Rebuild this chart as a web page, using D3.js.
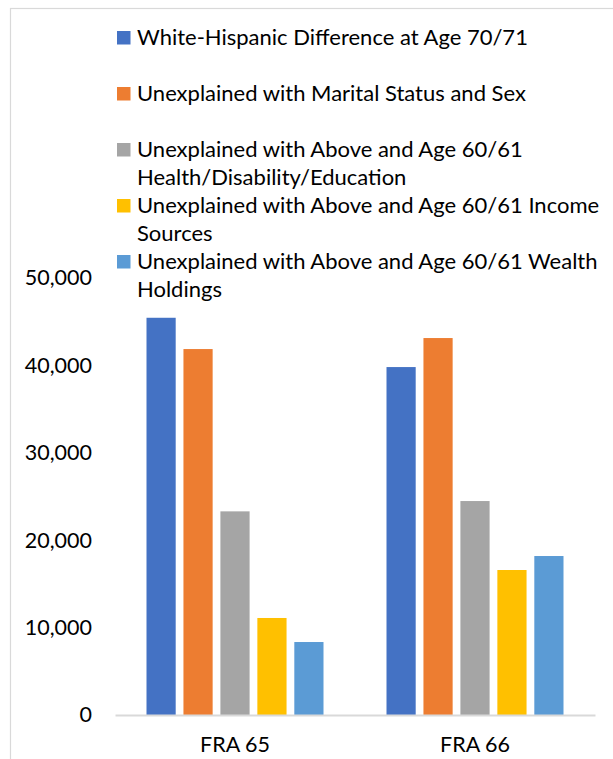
<!DOCTYPE html>
<html>
<head>
<meta charset="utf-8">
<script src="https://cdn.jsdelivr.net/npm/d3@7"></script>
<style>
  body { margin: 0; background: #fff; }
  svg { display: block; font-family: Lato, "Open Sans", sans-serif; font-weight: 400; }
</style>
</head>
<body>
<div id="chart"></div>
<script>
// data
let categories = ["FRA 65", "FRA 66"];
let seriesNames = [
  "White-Hispanic Difference at Age 70/71",
  "Unexplained with Marital Status and Sex",
  "Unexplained with Above and Age 60/61 Health/Disability/Education",
  "Unexplained with Above and Age 60/61 Income Sources",
  "Unexplained with Above and Age 60/61 Wealth Holdings"
];
// legend lines (wrapped like the original)
let legendLines = [
  ["White-Hispanic Difference at Age 70/71"],
  ["Unexplained with Marital Status and Sex"],
  ["Unexplained with Above and Age 60/61", "Health/Disability/Education"],
  ["Unexplained with Above and Age 60/61 Income", "Sources"],
  ["Unexplained with Above and Age 60/61 Wealth", "Holdings"]
];
let fra65 = [45450, 41870, 23300, 11100, 8350];
let fra66 = [39810, 43130, 24480, 16590, 18190];
let yTicks = [0, 10000, 20000, 30000, 40000, 50000];
let colors = ["#4472C4", "#ED7D31", "#A5A5A5", "#FFC000", "#5B9BD5"];

let w = 613, h = 759;
let fontSize = 21.5;
let legendFont = 22;

let svg = d3.select("#chart").append("svg")
  .attr("width", w)
  .attr("height", h);

// chart frame (runs off right and bottom)
svg.append("rect")
  .attr("x", 10.5).attr("y", 8.5)
  .attr("width", w + 20).attr("height", h + 20)
  .attr("fill", "none")
  .attr("stroke", "#d9d9d9")
  .attr("stroke-width", 1.2);

let data = categories.map(function(c, i){
  let vals = i == 0 ? fra65 : fra66;
  return { cat: c, values: vals.map(function(v, j){ return { name: seriesNames[j], value: v, idx: j }; }) };
});

let x0 = d3.scaleBand().domain(categories).range([115, 595]);
let groupPad = 31.5;
let x1 = d3.scaleBand().domain(seriesNames)
  .range([groupPad, x0.bandwidth() - groupPad])
  .paddingInner(0.21);
let y = d3.scaleLinear().domain([0, 50000]).range([715, 278]);

// y axis labels only (no line)
let yAxis = d3.axisLeft(y).tickValues(yTicks).tickSize(0).tickPadding(0)
  .tickFormat(d3.format(","));
let yg = svg.append("g").attr("transform", "translate(92,0)").call(yAxis);
yg.select(".domain").remove();
yg.selectAll("text")
  .attr("font-size", fontSize)
  .attr("font-family", "Lato, sans-serif")
  .attr("fill", "#000");

// bars
let groups = svg.selectAll(".grp").data(data).enter()
  .append("g")
    .attr("class", "grp")
    .attr("transform", function(d){ return "translate(" + x0(d.cat) + ",0)"; });

groups.selectAll("rect").data(function(d){ return d.values; }).enter()
  .append("rect")
    .attr("x", function(d){ return x1(d.name); })
    .attr("y", function(d){ return y(d.value); })
    .attr("width", x1.bandwidth())
    .attr("height", function(d){ return y(0) - y(d.value); })
    .attr("fill", function(d){ return colors[d.idx]; });

// x axis line + labels
let xAxis = d3.axisBottom(x0).tickSize(0).tickPadding(0);
let xg = svg.append("g").attr("transform", "translate(0,715)").call(xAxis);
xg.select(".domain")
  .attr("stroke", "#d9d9d9")
  .attr("stroke-width", 2);
xg.selectAll("text")
  .attr("y", 37)
  .attr("dy", 0)
  .attr("font-size", fontSize)
  .attr("font-family", "Lato, sans-serif")
  .attr("fill", "#000");

// legend
let legend = svg.append("g").attr("class", "legend");
let leg = legend.selectAll(".item").data(legendLines).enter()
  .append("g")
    .attr("class", "item")
    .attr("transform", function(d, i){ return "translate(117," + (44.5 + 56 * i) + ")"; });

leg.append("rect")
  .attr("x", 0).attr("y", -13.5)
  .attr("width", 13.5).attr("height", 13.5)
  .attr("fill", function(d, i){ return colors[i]; });

leg.append("text")
  .attr("font-size", legendFont)
  .attr("fill", "#000")
  .selectAll("tspan").data(function(d){ return d; }).enter()
  .append("tspan")
    .attr("x", 20)
    .attr("y", function(d, i){ return i * 28.4; })
    .text(function(d){ return d; });
</script>
</body>
</html>
